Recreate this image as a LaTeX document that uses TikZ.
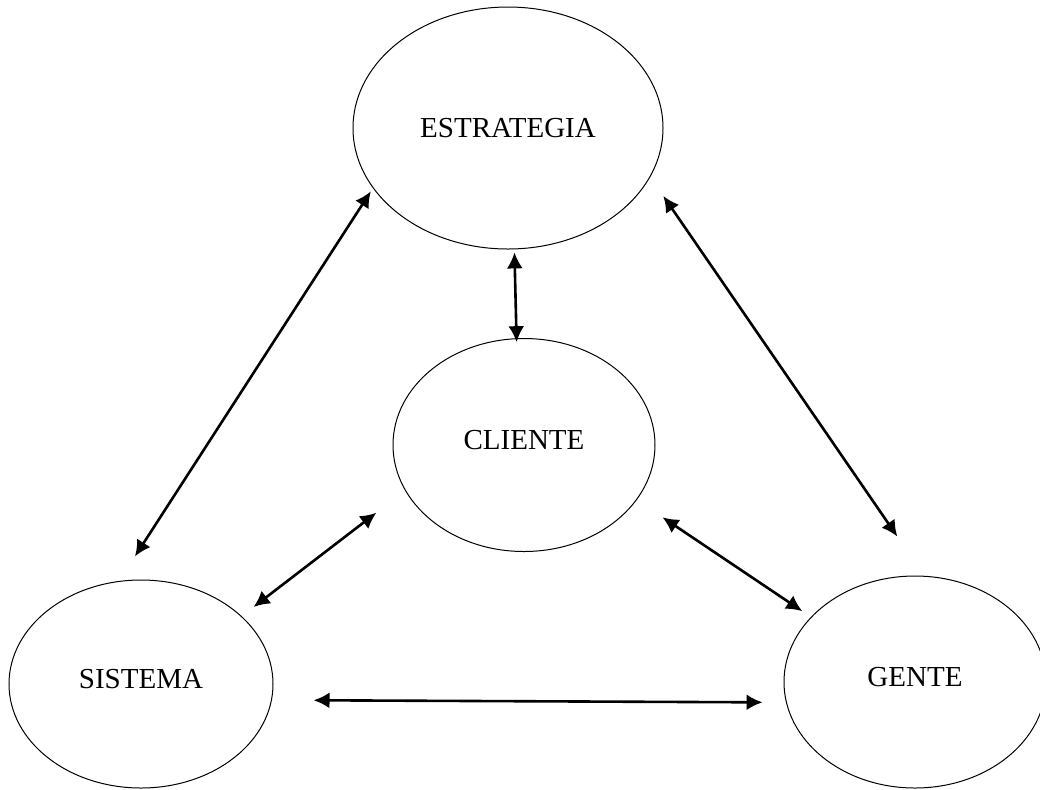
\documentclass[tikz,border=0pt]{standalone}
\usepackage{fontspec}
\setmainfont{Liberation Serif}
\usetikzlibrary{arrows.meta,shapes.geometric}

\begin{document}
\begin{tikzpicture}[x=0.5pt,y=-0.5pt,>={Latex[length=8pt,width=8pt]},
    bubble/.style={draw,ellipse,line width=0.5pt,inner sep=0pt,font=\fontsize{14.5}{17}\selectfont},
    link/.style={<->,line width=1.3pt}]
    \useasboundingbox (0,0) rectangle (1040,789);
    \node[bubble,minimum width=155pt,minimum height=121pt] (est) at (508,128) {ESTRATEGIA};
    \node[bubble,minimum width=131pt,minimum height=106.5pt,text depth=5pt] (cli) at (524,445) {CLIENTE};
    \node[bubble,minimum width=132pt,minimum height=104pt,text depth=5pt] (sis) at (141,684) {SISTEMA};
    \node[bubble,minimum width=131pt,minimum height=106pt,text depth=5pt] (gen) at (915,682) {GENTE};
    \draw[link,shorten <=1.5pt,shorten >=-2pt] (est.273) -- (cli.94);
    \draw[link,shorten <=1.9pt,shorten >=14.6pt] (est.204) -- (sis.102);
    \draw[link,shorten <=11.5pt,shorten >=23.8pt] (est.341) -- (gen.85);
    \draw[link,shorten <=18.1pt,shorten >=7.5pt] (cli.201) -- (sis.34);
    \draw[link,shorten <=15.5pt,shorten >=5.2pt] (cli.334) -- (gen.148);
    \draw[link,shorten <=20.8pt,shorten >=11.7pt] (sis.353) -- (gen.189);
  \end{tikzpicture}
\end{document}
